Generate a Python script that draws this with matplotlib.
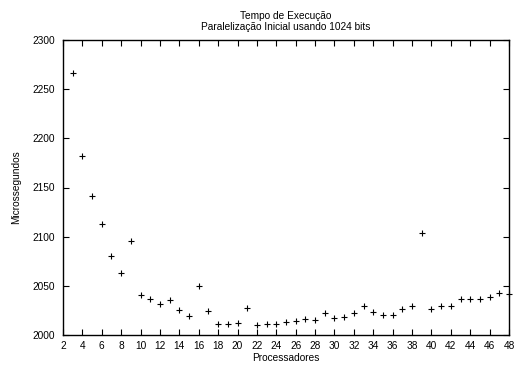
import matplotlib
matplotlib.use("Agg")
import matplotlib.pyplot as plt

plt.rcParams['font.family'] = ['Liberation Sans', 'DejaVu Sans']

processors = list(range(3, 49))
times = [2266, 2182, 2141, 2113, 2080, 2063, 2096, 2041, 2037, 2032,
         2036, 2025, 2019, 2050, 2024, 2011, 2011, 2012, 2027, 2010,
         2011, 2011, 2013, 2014, 2016, 2015, 2022, 2017, 2018, 2022,
         2030, 2023, 2020, 2020, 2026, 2029, 2104, 2026, 2029, 2029,
         2037, 2037, 2037, 2039, 2043, 2042]
xticks = list(range(2, 49, 2))
yticks = list(range(2000, 2301, 50))

fs = 7.3
fig = plt.figure(figsize=(5.16, 3.72), dpi=100)
ax = fig.add_axes([63/516, 1-335/372, (509-63)/516, (335-40)/372])
ax.plot(processors, times, linestyle='none', marker='+', color='black',
        markersize=5, markeredgewidth=0.8, clip_on=False)
ax.set_xlim(2, 48)
ax.set_ylim(2000, 2300)
ax.set_xticks(xticks)
ax.set_yticks(yticks)
ax.tick_params(direction='in', top=True, right=True, labelsize=fs, length=4, width=0.8)
ax.tick_params(axis='y', pad=6)
ax.tick_params(axis='x', pad=4)
for s in ax.spines.values():
    s.set_linewidth(1.0)
ax.set_xlabel('Processadores', fontsize=fs, labelpad=2)
ax.set_ylabel('Microssegundos', fontsize=fs, labelpad=8)
ax.set_title('Tempo de Execução\nParalelização Inicial usando 1024 bits', fontsize=fs, pad=7, linespacing=1.1)
fig.savefig('out.png', dpi=100)
